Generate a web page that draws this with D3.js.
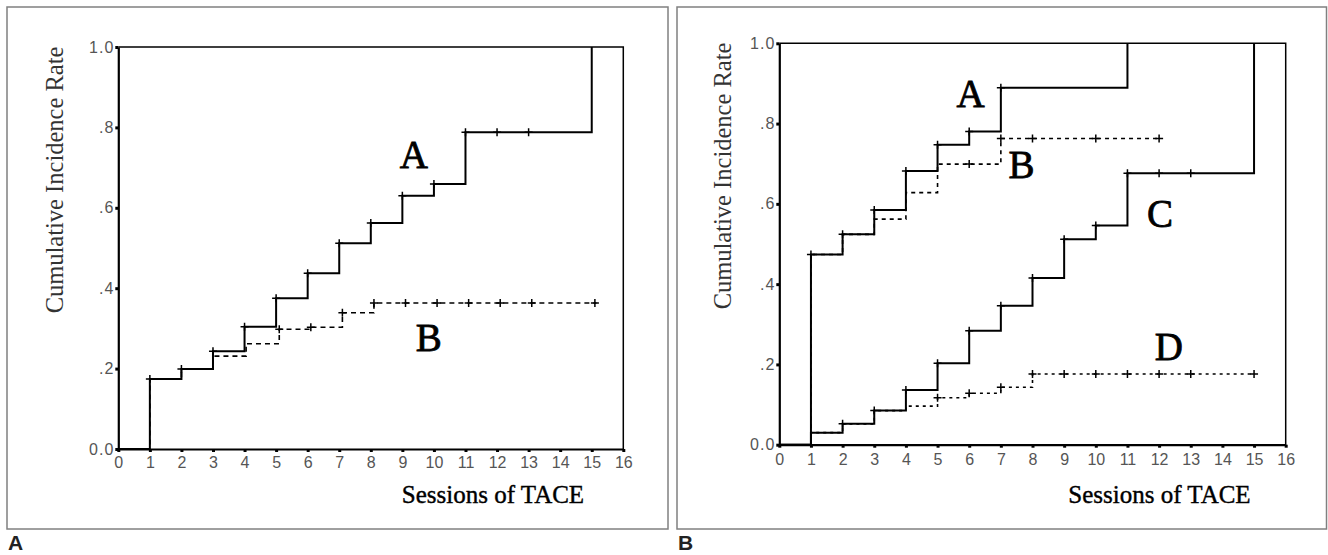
<!DOCTYPE html>
<html>
<head>
<meta charset="utf-8">
<script src="https://cdn.jsdelivr.net/npm/d3@7"></script>
<style>
  body { margin: 0; background: #fff; }
  svg { display: block; }
</style>
</head>
<body>
<svg id="chart" width="1328" height="555"></svg>
<script>
// ejes
const xTicks = d3.range(0, 17);
const yTicks = [0, 0.2, 0.4, 0.6, 0.8, 1.0];

// Panel A: curvas A (sólida) y B (discontinua)
const leftA_t = [0, 1, 2, 3, 4, 5, 6, 7, 8, 9, 10, 11, 15];
const leftA_v = [0, 0.174, 0.199, 0.243, 0.304, 0.375, 0.437, 0.512, 0.562, 0.630, 0.659, 0.788, 1.0];
const leftA_cens = [1, 2, 3, 4, 5, 6, 7, 8, 9, 10, 11, 12, 13];

const leftB_t = [0, 1, 2, 3, 4.05, 5.1, 6.1, 7.1, 8.1, 15.15];
const leftB_v = [0, 0.174, 0.199, 0.231, 0.262, 0.298, 0.303, 0.339, 0.363, 0.363];
const leftB_cens = [5.1, 6.1, 7.1, 8.1, 9.1, 10.1, 11.1, 12.1, 13.1, 15.1];

// Panel B: curvas A, B, C, D
const rightA_t = [0, 1, 2, 3, 4, 5, 6, 7, 11];
const rightA_v = [0, 0.474, 0.524, 0.585, 0.682, 0.747, 0.780, 0.889, 1.0];
const rightA_cens = [1, 2, 3, 4, 5, 6, 7];

const rightB_t = [0, 1, 2, 3, 4, 5, 7, 12];
const rightB_v = [0, 0.474, 0.524, 0.562, 0.628, 0.699, 0.763, 0.763];
const rightB_cens = [6, 7, 8, 10, 12];

const rightC_t = [0, 1, 2, 3, 4, 5, 6, 7, 8, 9, 10, 11, 15];
const rightC_v = [0, 0.030, 0.052, 0.085, 0.136, 0.203, 0.284, 0.346, 0.415, 0.512, 0.546, 0.676, 1.0];
const rightC_cens = [2, 3, 4, 5, 6, 7, 8, 9, 10, 11, 12, 13];

const rightD_t = [0, 1, 2, 3, 4, 5, 6, 7, 8, 15];
const rightD_v = [0, 0.030, 0.052, 0.085, 0.096, 0.117, 0.128, 0.143, 0.176, 0.176];
const rightD_cens = [5, 6, 7, 8, 9, 10, 11, 12, 13, 15];

// etiquetas de curva [texto, x, y] en unidades de datos
const leftLabels = [["A", 9.36, 0.70], ["B", 9.84, 0.244]];
const rightLabels = [["A", 6.04, 0.842], ["B", 7.65, 0.664], ["C", 12.03, 0.543], ["D", 12.31, 0.211]];

const svg = d3.select('#chart');

function stepValue(ts, vs, t) {
    let v = vs[0];
    for (let i = 0; i < ts.length; i++) if (ts[i] <= t + 1e-9) v = vs[i];
    return v;
}

function drawPanel(cfg) {
    const x = d3.scaleLinear().domain([0, 16]).range(cfg.xRange);
    const y = d3.scaleLinear().domain([0, 1]).range(cfg.yRange);

    // marco del panel
    svg.append('rect')
       .attr('x', cfg.frame[0]).attr('y', cfg.frame[1])
       .attr('width', cfg.frame[2]).attr('height', cfg.frame[3])
       .attr('fill', 'none').attr('stroke', '#808080').attr('stroke-width', 1.5);

    const g = svg.append('g');

    // borde superior y derecho del gráfico
    g.append('path')
     .attr('d', `M${x(0)},${y(1)}H${x(16)}V${y(0)}`)
     .attr('fill', 'none').attr('stroke', '#000').attr('stroke-width', 1.5);

    const line = d3.line().curve(d3.curveStepAfter).x(d => x(d[0])).y(d => y(d[1]));

    cfg.curves.forEach(c => {
        const pts = c.t.map((t, i) => [t, c.v[i]]);
        g.append('path')
         .datum(pts)
         .attr('fill', 'none')
         .attr('stroke', '#000')
         .attr('stroke-width', c.dash ? 1.6 : 2)
         .attr('stroke-dasharray', c.dash || null)
         .attr('d', line);

        c.cens.forEach(t => {
            const cx = x(t), cy = y(stepValue(c.t, c.v, t));
            g.append('path')
             .attr('d', `M${cx - 4},${cy}H${cx + 4}M${cx},${cy - 4}V${cy + 4}`)
             .attr('stroke', '#000').attr('stroke-width', 1.5);
        });
    });

    const xAxis = g.append('g')
       .attr('transform', `translate(0,${y(0)})`)
       .call(d3.axisBottom(x).tickValues(xTicks).tickSize(3).tickPadding(cfg.xPad).tickSizeOuter(0));
    const yAxis = g.append('g')
       .attr('transform', `translate(${x(0)},0)`)
       .call(d3.axisLeft(y).tickValues(yTicks).tickSize(3).tickPadding(1).tickSizeOuter(0)
             .tickFormat(d => (d === 0 || d === 1) ? d3.format('.1f')(d) : d3.format('.1f')(d).replace(/^0/, '')));

    [xAxis, yAxis].forEach(a => {
        a.select('.domain').attr('stroke', '#000').attr('stroke-width', 2.2);
        a.selectAll('.tick line').attr('stroke', '#000').attr('stroke-width', 3);
        a.selectAll('.tick text')
         .attr('fill', '#555')
         .attr('font-family', '"Liberation Sans", Arial, sans-serif')
         .attr('font-size', '16px');
    });
    yAxis.selectAll('.tick text').attr('letter-spacing', '1px');

    // títulos
    g.append('text')
     .attr('transform', `translate(${cfg.yTitleX},${(y(0) + y(1)) / 2 - 68}) rotate(-90)`)
     .attr('text-anchor', 'middle')
     .attr('font-family', '"Liberation Serif", "Times New Roman", serif')
     .attr('font-size', '24.5px')
     .attr('fill', '#333')
     .text('Cumulative Incidence Rate');

    g.append('text')
     .attr('x', cfg.xTitleX).attr('y', 502.7)
     .attr('text-anchor', 'middle')
     .attr('font-family', '"Liberation Serif", "Times New Roman", serif')
     .attr('font-size', '25px')
     .attr('fill', '#000')
     .attr('stroke', '#000').attr('stroke-width', 0.4)
     .text('Sessions of TACE');

    cfg.labels.forEach(([txt, lx, ly]) => {
        g.append('text')
         .attr('x', x(lx)).attr('y', y(ly))
         .attr('text-anchor', 'middle')
         .attr('font-family', '"Liberation Serif", "Times New Roman", serif')
         .attr('font-size', '39px')
         .attr('fill', '#000')
         .attr('stroke', '#000').attr('stroke-width', 0.8)
         .text(txt);
    });

    svg.append('text')
       .attr('x', cfg.frame[0] + 1).attr('y', 550)
       .attr('font-family', '"Liberation Sans", Arial, sans-serif')
       .attr('font-weight', 'bold')
       .attr('font-size', '21px')
       .attr('fill', '#222')
       .text(cfg.panel);
}

drawPanel({
    panel: 'A',
    frame: [7, 7, 661, 522],
    xRange: [118.3, 623.3],
    yRange: [449, 47],
    xPad: 5,
    yTitleX: 63,
    xTitleX: 493,
    labels: leftLabels,
    curves: [
        { t: leftA_t, v: leftA_v, cens: leftA_cens },
        { t: leftB_t, v: leftB_v, cens: leftB_cens, dash: '5,4' }
    ]
});

drawPanel({
    panel: 'B',
    frame: [677, 7, 649.5, 522],
    xRange: [779.3, 1285.7],
    yRange: [444.7, 43.3],
    xPad: 6,
    yTitleX: 731,
    xTitleX: 1159.5,
    labels: rightLabels,
    curves: [
        { t: rightA_t, v: rightA_v, cens: rightA_cens },
        { t: rightB_t, v: rightB_v, cens: rightB_cens, dash: '4,4' },
        { t: rightC_t, v: rightC_v, cens: rightC_cens },
        { t: rightD_t, v: rightD_v, cens: rightD_cens, dash: '3,4' }
    ]
});
</script>
</body>
</html>
